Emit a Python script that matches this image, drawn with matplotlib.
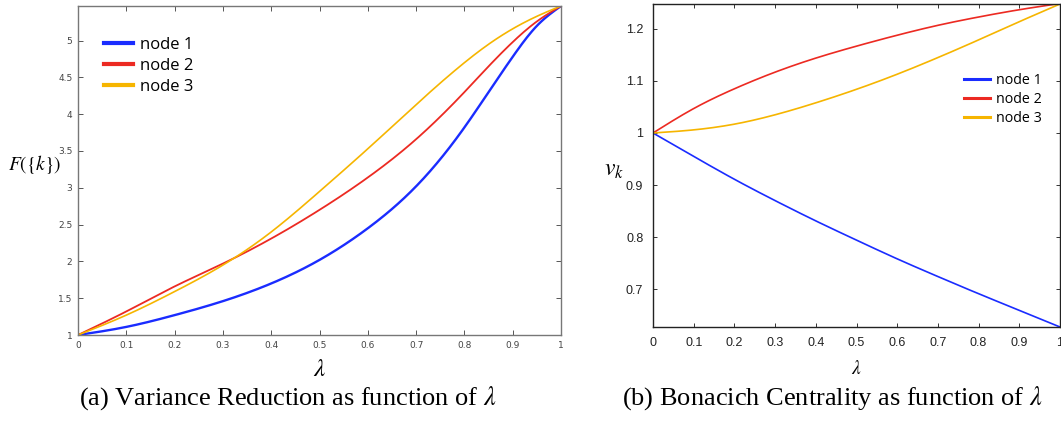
import numpy as np
import matplotlib
matplotlib.use("Agg")
import matplotlib.pyplot as plt

plt.rcParams["mathtext.fontset"] = "stix"

# lambda grid for the variance reduction panel
lam = [0.0, 0.1, 0.2, 0.3, 0.4, 0.5, 0.6, 0.7, 0.8, 0.85, 0.9, 0.95, 1.0]

# variance reduction F({k})
vr_node1 = [1.0, 1.11, 1.27, 1.46, 1.70, 2.02, 2.45, 3.02, 3.82, 4.30, 4.78, 5.20, 5.47]
vr_node2 = [1.0, 1.32, 1.66, 1.97, 2.31, 2.70, 3.14, 3.66, 4.30, 4.65, 4.98, 5.26, 5.47]
vr_node3 = [1.0, 1.27, 1.59, 1.95, 2.40, 2.95, 3.53, 4.13, 4.70, 4.95, 5.16, 5.33, 5.47]

# bonacich centrality v_k
lam_b = [0.0, 0.1, 0.2, 0.3, 0.4, 0.5, 0.6, 0.7, 0.8, 0.9, 1.0]
bc_node1 = [1.0, 0.955, 0.911, 0.870, 0.831, 0.794, 0.758, 0.724, 0.691, 0.659, 0.627]
bc_node2 = [1.0, 1.047, 1.085, 1.117, 1.144, 1.167, 1.188, 1.207, 1.223, 1.237, 1.249]
bc_node3 = [1.0, 1.006, 1.017, 1.035, 1.058, 1.084, 1.113, 1.145, 1.179, 1.214, 1.248]

labels = ["node 1", "node 2", "node 3"]
colors = ["#1a2cff", "#ec2a22", "#f6b500"]

x_ticks = [0, 0.1, 0.2, 0.3, 0.4, 0.5, 0.6, 0.7, 0.8, 0.9, 1]
x_tick_labels = ["0", "0.1", "0.2", "0.3", "0.4", "0.5", "0.6", "0.7", "0.8", "0.9", "1"]
left_yticks = [1, 1.5, 2, 2.5, 3, 3.5, 4, 4.5, 5]
left_ytick_labels = ["1", "1.5", "2", "2.5", "3", "3.5", "4", "4.5", "5"]
right_yticks = [0.7, 0.8, 0.9, 1.0, 1.1, 1.2]
right_ytick_labels = ["0.7", "0.8", "0.9", "1", "1.1", "1.2"]

W, H = 1061, 423


def spline(x, y, n=300):
    # natural cubic spline through the points, drawn on a fine grid
    x = np.asarray(x, float)
    y = np.asarray(y, float)
    k = len(x)
    h = np.diff(x)
    A = np.zeros((k, k))
    r = np.zeros(k)
    A[0, 0] = A[-1, -1] = 1.0
    for i in range(1, k - 1):
        A[i, i - 1] = h[i - 1]
        A[i, i] = 2 * (h[i - 1] + h[i])
        A[i, i + 1] = h[i]
        r[i] = 6 * ((y[i + 1] - y[i]) / h[i] - (y[i] - y[i - 1]) / h[i - 1])
    M = np.linalg.solve(A, r)
    xs = np.linspace(x[0], x[-1], n)
    idx = np.clip(np.searchsorted(x, xs, side="right") - 1, 0, k - 2)
    a = x[idx + 1] - xs
    b = xs - x[idx]
    hh = h[idx]
    ys = (M[idx] * a**3 + M[idx + 1] * b**3) / (6 * hh) \
        + (y[idx] / hh - M[idx] * hh / 6) * a \
        + (y[idx + 1] / hh - M[idx + 1] * hh / 6) * b
    return xs, ys


def px_axes(left, top, right, bottom):
    return [left / W, 1 - bottom / H, (right - left) / W, (bottom - top) / H]


fig = plt.figure(figsize=(W / 100, H / 100), dpi=100)

# =========================
# (a) variance reduction
# =========================
ax1 = fig.add_axes(px_axes(78, 6, 561, 335))
for y, c, lb, lw in zip([vr_node1, vr_node2, vr_node3], colors, labels, [1.7, 1.3, 1.2]):
    xs, ys = spline(lam, y)
    ax1.plot(xs, ys, color=c, lw=lw, label=lb)
ax1.set_xlim(0, 1)
ax1.set_ylim(1, 5.47)
ax1.set_xticks(x_ticks)
ax1.set_xticklabels(x_tick_labels)
ax1.set_yticks(left_yticks)
ax1.set_yticklabels(left_ytick_labels)
ax1.tick_params(direction="in", top=True, right=True, labelsize=6.5, labelcolor="#444444",
                color="#555555", length=3.5, width=0.7, pad=4)
for s in ax1.spines.values():
    s.set_color("#777777")
    s.set_linewidth(1.0)
ax1.set_xlabel(r"$\lambda$", fontsize=18)
ax1.xaxis.set_label_coords(0.5, -0.066)
ax1.set_ylabel(r"$F(\{k\})$", fontsize=14, rotation=0, va="center", ha="center")
ax1.yaxis.set_label_coords(-0.089, 0.517)
leg1 = ax1.legend(loc="upper left", bbox_to_anchor=(0.054, 0.905), frameon=False,
                  prop={"family": "Open Sans", "size": 12}, handlelength=1.74,
                  handletextpad=0.42, labelspacing=0.29, borderaxespad=0, borderpad=0)
for h in leg1.get_lines():
    h.set_linewidth(3)

# =========================
# (b) bonacich centrality
# =========================
ax2 = fig.add_axes(px_axes(653, 4, 1060, 327))
for y, c, lb in zip([bc_node1, bc_node2, bc_node3], colors, labels):
    xs, ys = spline(lam_b, y)
    ax2.plot(xs, ys, color=c, lw=1.2, label=lb)
ax2.set_xlim(0, 1)
ax2.set_ylim(0.627, 1.248)
ax2.set_xticks(x_ticks)
ax2.set_xticklabels(x_tick_labels)
ax2.set_yticks(right_yticks)
ax2.set_yticklabels(right_ytick_labels)
ax2.tick_params(direction="in", top=True, right=True, labelsize=9, labelcolor="#222222",
                color="#333333", length=3, width=0.7, pad=7)
for lbl in ax2.get_xticklabels() + ax2.get_yticklabels():
    lbl.set_family("Liberation Sans")
for s in ax2.spines.values():
    s.set_color("#222222")
    s.set_linewidth(1.0)
ax2.set_xlabel(r"$\lambda$", fontsize=14)
ax2.xaxis.set_label_coords(0.5, -0.098)
ax2.set_ylabel(r"$v_k$", fontsize=17, rotation=0, va="center", ha="center")
ax2.yaxis.set_label_coords(-0.096, 0.49)
leg2 = ax2.legend(loc="upper left", bbox_to_anchor=(0.764, 0.787), frameon=False,
                  prop={"family": "Open Sans", "size": 10.3}, handlelength=1.83,
                  handletextpad=0.42, labelspacing=0.3, borderaxespad=0, borderpad=0)
for h in leg2.get_lines():
    h.set_linewidth(2.2)

# captions
fig.text(288 / W, 1 - 398 / H, r"(a) Variance Reduction as function of $\lambda$",
         ha="center", va="center", fontsize=19, family="Liberation Serif")
fig.text(832 / W, 1 - 398 / H, r"(b) Bonacich Centrality as function of $\lambda$",
         ha="center", va="center", fontsize=19, family="Liberation Serif")

fig.savefig("out.png", dpi=100)
